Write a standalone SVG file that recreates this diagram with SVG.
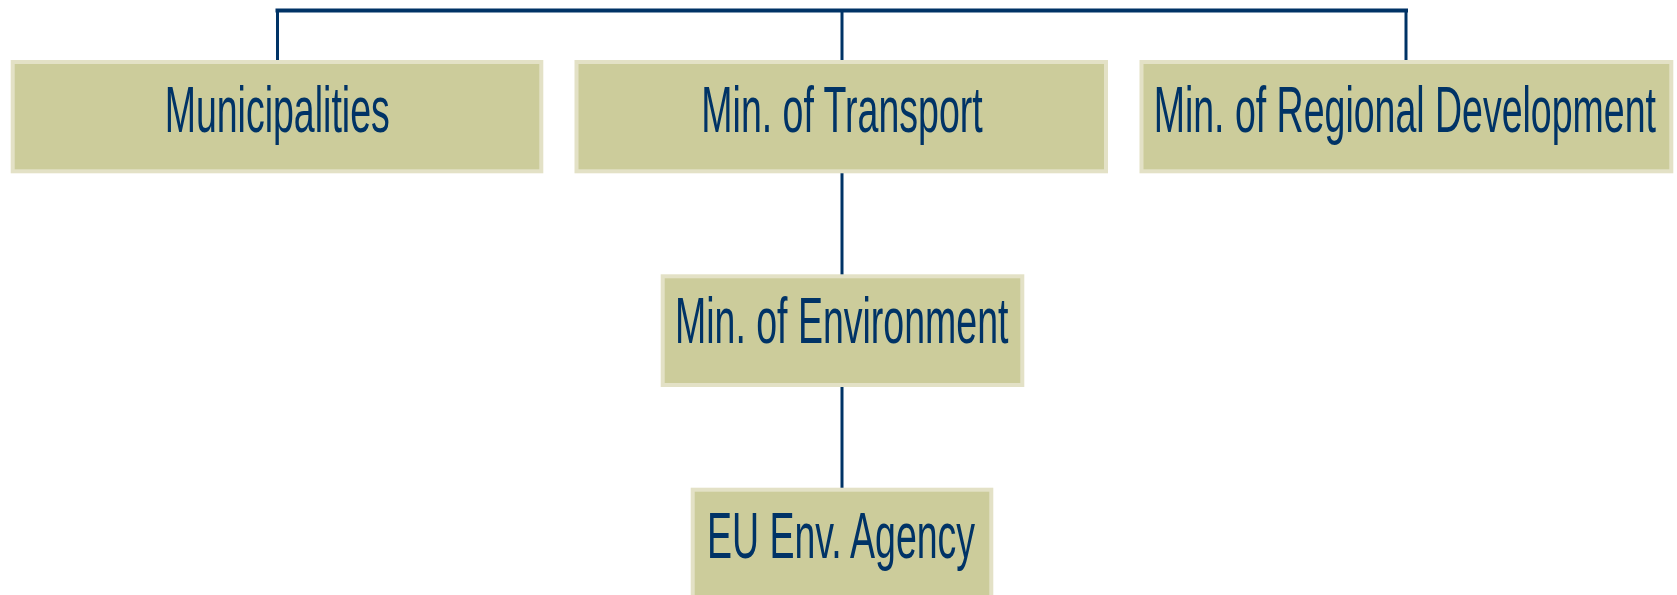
<svg xmlns="http://www.w3.org/2000/svg" width="1677" height="595" viewBox="0 0 1677 595">
  <style>
    .box { fill: #cccc9b; stroke: #e3e1c6; stroke-width: 4; }
    .lbl { font-family: "Liberation Sans", Arial, sans-serif; font-size: 65px; fill: #003366; text-anchor: middle; }
    .conn { stroke: #003366; fill: none; stroke-linecap: square; }
  </style>
  <rect width="1677" height="595" fill="#ffffff"/>
  <g id="connectors">
    <path class="conn" d="M277.5 10.5 H1406" stroke-width="4"/>
    <path class="conn" d="M277.5 11 V60" stroke-width="3"/>
    <path class="conn" d="M842 11 V60" stroke-width="3"/>
    <path class="conn" d="M1406 11 V60" stroke-width="3"/>
    <path class="conn" d="M842 174 V274" stroke-width="3"/>
    <path class="conn" d="M842 388 V488" stroke-width="3"/>
  </g>
  <g id="municipalities">
    <rect class="box" x="12.7" y="62" width="528.6" height="109.3"/>
    <text class="lbl" transform="translate(277.2,131.7) scale(0.577,1)">Municipalities</text>
  </g>
  <g id="transport">
    <rect class="box" x="576.5" y="62" width="529.5" height="109.3"/>
    <text class="lbl" transform="translate(842,131.7) scale(0.577,1)">Min. of Transport</text>
  </g>
  <g id="regional">
    <rect class="box" x="1141.5" y="62" width="529.8" height="109.3"/>
    <text class="lbl" transform="translate(1404.8,131.7) scale(0.577,1)">Min. of Regional Development</text>
  </g>
  <g id="environment">
    <rect class="box" x="662.7" y="276.3" width="359.6" height="108.7"/>
    <text class="lbl" transform="translate(841.7,343.3) scale(0.577,1)">Min. of Environment</text>
  </g>
  <g id="eu-agency">
    <rect class="box" x="692.7" y="489.7" width="298.6" height="120"/>
    <text class="lbl" transform="translate(841,557.7) scale(0.577,1)">EU Env. Agency</text>
  </g>
</svg>
